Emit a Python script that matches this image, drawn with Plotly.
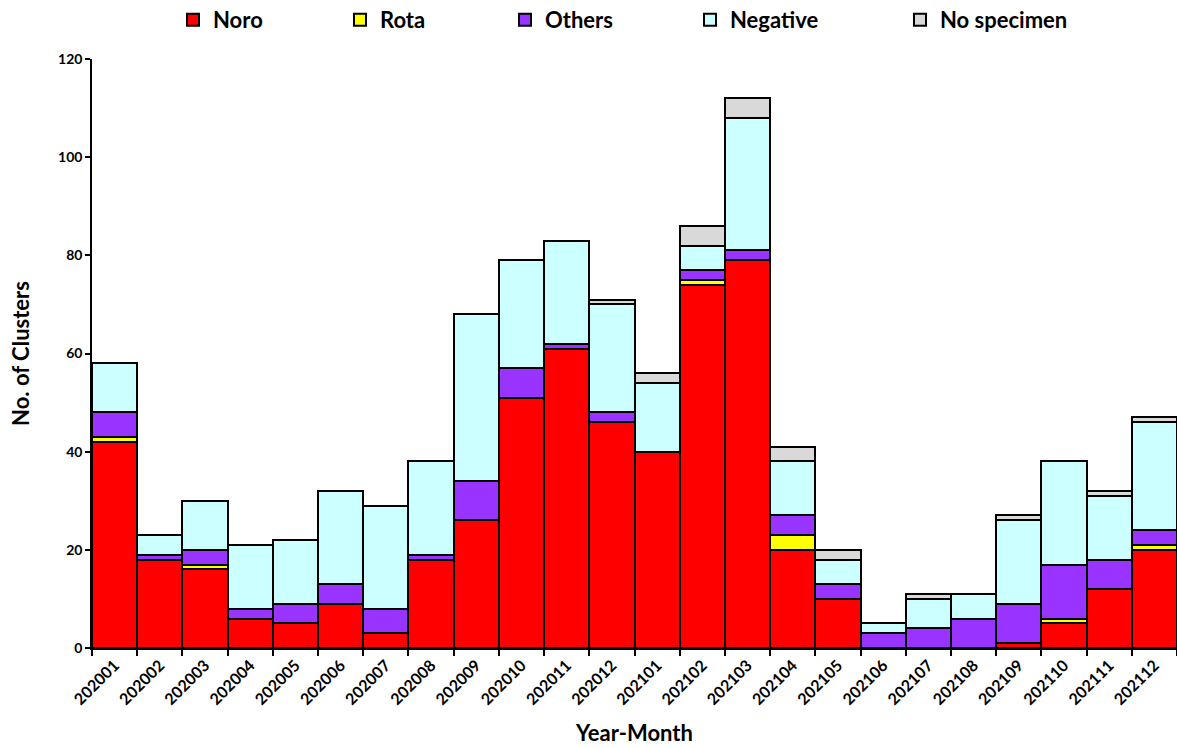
import plotly.graph_objects as go

months = ["202001","202002","202003","202004","202005","202006","202007","202008",
          "202009","202010","202011","202012","202101","202102","202103","202104",
          "202105","202106","202107","202108","202109","202110","202111","202112"]
noro     = [42,18,16,6,5,9,3,18,26,51,61,46,40,74,79,20,10,0,0,0,1,5,12,20]
rota     = [1,0,1,0,0,0,0,0,0,0,0,0,0,1,0,3,0,0,0,0,0,1,0,1]
others   = [5,1,3,2,4,4,5,1,8,6,1,2,0,2,2,4,3,3,4,6,8,11,6,3]
negative = [10,4,10,13,13,19,21,19,34,22,21,22,14,5,27,11,5,2,6,5,17,21,13,22]
nospec   = [0,0,0,0,0,0,0,0,0,0,0,1,2,4,4,3,2,0,1,0,1,0,1,1]

series = [("Noro", noro, "#FF0000"), ("Rota", rota, "#FFFF00"),
          ("Others", others, "#9933FF"), ("Negative", negative, "#CCFFFF"),
          ("No specimen", nospec, "#D9D9D9")]
legend_px = [173, 340, 505, 690, 900]  # left pixel of each legend entry

L, R, T, B = 92, 0, 59, 100
W, H = 1177, 748
pw = W - L - R

fnt = "Lato, 'Open Sans', sans-serif"
fig = go.Figure()
layout_legends = {}
for i, (name, vals, col) in enumerate(series):
    lname = "legend" if i == 0 else f"legend{i+1}"
    fig.add_trace(go.Bar(x=months, y=vals, name=name, legend=lname,
                         marker=dict(color=col, line=dict(color="black", width=2))))
    layout_legends[lname] = dict(
        x=(legend_px[i] - L) / pw, xanchor="left", y=1.0 + (T - 20) / (H - T - B), yanchor="middle",
        font=dict(size=22, family=fnt, weight="bold"), bgcolor="rgba(0,0,0,0)",
        itemwidth=30, tracegroupgap=0)

fig.update_layout(
    barmode="stack", bargap=0,
    width=W, height=H,
    margin=dict(l=L, r=R, t=T, b=B, autoexpand=False),
    plot_bgcolor="white", paper_bgcolor="white",
    font=dict(family=fnt, color="black"),
    showlegend=True,
    xaxis=dict(type="category", tickangle=-45, tickson="boundaries",
               ticks="outside", ticklen=6, tickcolor="black", tickwidth=1.5,
               showline=True, linecolor="black", linewidth=1.5,
               tickfont=dict(size=16, family=fnt, weight="bold"),
               title=dict(text="Year-Month", font=dict(size=22, family=fnt, weight="bold"), standoff=18)),
    yaxis=dict(range=[0, 120], dtick=20, ticks="outside", ticklen=5, tickcolor="black", tickwidth=1.5,
               showline=True, linecolor="black", linewidth=1.5, showgrid=False, zeroline=False,
               tickfont=dict(size=14, family=fnt, weight="bold"),
               title=dict(text="No. of Clusters", font=dict(size=22, family=fnt, weight="bold"), standoff=22)),
    **layout_legends,
)
fig.write_html("out.html")
